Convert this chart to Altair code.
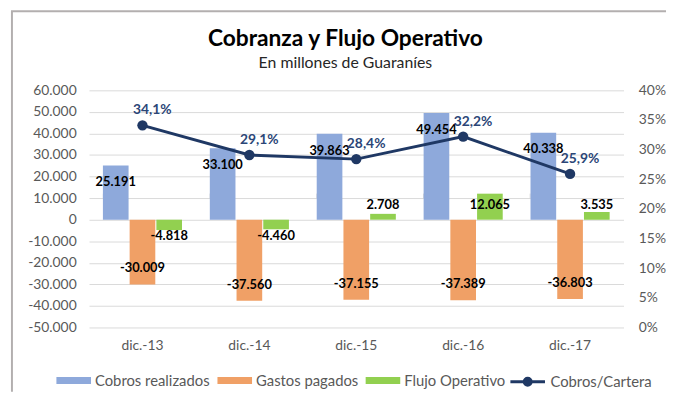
import altair as alt
import pandas as pd

categories = ["dic.-13", "dic.-14", "dic.-15", "dic.-16", "dic.-17"]
cobros = [25191, 33100, 39863, 49454, 40338]
gastos = [-30009, -37560, -37155, -37389, -36803]
flujo = [-4818, -4460, 2708, 12065, 3535]
ratio = [0.341, 0.291, 0.284, 0.322, 0.259]
series_names = ["Cobros realizados", "Gastos pagados", "Flujo Operativo"]
line_name = "Cobros/Cartera"
left_ticks = [-50000, -40000, -30000, -20000, -10000, 0, 10000, 20000, 30000, 40000, 50000, 60000]
right_ticks = [0, 0.05, 0.10, 0.15, 0.20, 0.25, 0.30, 0.35, 0.40]

rows = []
for i, c in enumerate(categories):
    for s, vals in zip(series_names, [cobros, gastos, flujo]):
        rows.append({"cat": c, "serie": s, "v": vals[i]})
bars_df = pd.DataFrame(rows)
line_df = pd.DataFrame({"cat": categories, "r": ratio, "serie": [line_name] * len(categories)})

FONT = "Lato"
NAVY = "#1F3864"
LABEL_NAVY = "#2B4677"
AXIS_GREY = "#595959"
GRID = "#D9D9D9"
bar_colors = ["#8EA9DB", "#F0A066", "#92D050"]

RECT = "M-1,-0.2H1V0.2H-1Z"
LINESYM = "M-1,0H1 M-0.2,0A0.2,0.2 0 1,0 0.2,0A0.2,0.2 0 1,0 -0.2,0Z"

fill_legend = alt.Legend(
    orient="none", legendX=-33, legendY=276, direction="horizontal", title=None,
    labelFont=FONT, labelFontSize=15, labelColor=AXIS_GREY, symbolSize=1225,
    symbolType=RECT, labelOffset=4, columnPadding=7, symbolStrokeWidth=0,
)
stroke_legend = alt.Legend(
    orient="none", legendX=425, legendY=276, direction="horizontal", title=None,
    labelFont=FONT, labelFontSize=15, labelColor=AXIS_GREY, symbolSize=1225,
    symbolType=LINESYM, labelOffset=4, symbolStrokeWidth=3, symbolFillColor=NAVY,
)

x_scale = alt.Scale(domain=categories, paddingInner=0.26, paddingOuter=0.13)
x_axis = alt.Axis(title=None, labelFont=FONT, labelFontSize=14, labelColor=AXIS_GREY,
                  labelPadding=11, domain=False, ticks=False, labelAngle=0, grid=False)
zero_axis = alt.Axis(title=None, labels=False, domain=False, ticks=True, tickColor=GRID,
                     tickSize=5, bandPosition=0, offset=-109, grid=False)

y_left_scale = alt.Scale(domain=[-50000, 60000], nice=False, zero=False)
left_axis = alt.Axis(title=None, values=left_ticks, format=",.0f", labelFont=FONT,
                     labelFontSize=14, labelColor=AXIS_GREY, grid=True, gridColor=GRID,
                     domain=False, ticks=False, labelPadding=13)
y_right_scale = alt.Scale(domain=[0, 0.4], nice=False, zero=False)
right_axis = alt.Axis(title=None, orient="right", values=right_ticks, format=".0%", labelFont=FONT,
                      labelFontSize=14, labelColor=AXIS_GREY, grid=False, domain=False,
                      ticks=False, labelPadding=15)

xoff = alt.XOffset("serie:N", scale=alt.Scale(domain=series_names, paddingInner=0.04))

bars = alt.Chart(bars_df).mark_bar().encode(
    x=alt.X("cat:N", scale=x_scale, axis=x_axis),
    xOffset=xoff,
    y=alt.Y("v:Q", scale=y_left_scale, axis=left_axis),
    fill=alt.Fill("serie:N", scale=alt.Scale(domain=series_names, range=bar_colors), legend=fill_legend),
)

bar_labels = alt.Chart(bars_df).transform_calculate(
    ly="datum.serie === 'Cobros realizados' ? datum.v - 7800 : "
       "(datum.serie === 'Gastos pagados' ? datum.v + 7400 : (datum.v >= 0 ? 7000 : -7700))"
).mark_text(font=FONT, fontSize=13, fontWeight="bold", color="#000000", baseline="middle").encode(
    x=alt.X("cat:N", scale=x_scale, axis=x_axis),
    xOffset=xoff,
    y=alt.Y("ly:Q", scale=y_left_scale, axis=left_axis),
    text=alt.Text("v:Q", format=",.0f"),
)

left = alt.layer(bars, bar_labels)

line = alt.Chart(line_df).mark_line(strokeWidth=3).encode(
    x=alt.X("cat:N", scale=x_scale, axis=zero_axis),
    y=alt.Y("r:Q", scale=y_right_scale, axis=right_axis),
    stroke=alt.Stroke("serie:N", scale=alt.Scale(domain=[line_name], range=[NAVY]), legend=stroke_legend),
)
pts = alt.Chart(line_df).mark_point(filled=True, size=110, opacity=1, color=NAVY).encode(
    x=alt.X("cat:N", scale=x_scale, axis=zero_axis),
    y=alt.Y("r:Q", scale=y_right_scale, axis=right_axis),
)
line_labels = alt.Chart(line_df).mark_text(
    font=FONT, fontSize=14, fontWeight="bold", color=LABEL_NAVY, dx=10, dy=-15, baseline="middle"
).encode(
    x=alt.X("cat:N", scale=x_scale, axis=zero_axis),
    y=alt.Y("r:Q", scale=y_right_scale, axis=right_axis),
    text=alt.Text("r:Q", format=".1%"),
)
right = alt.layer(line, pts, line_labels)

frame_df = pd.DataFrame({"k": [0]})
frame_left = alt.Chart(frame_df).mark_rule(color="#B3AFAF", strokeWidth=2).encode(
    x=alt.value(-78), y=alt.value(-80), y2=alt.value(305))
frame_top = alt.Chart(frame_df).mark_rule(color="#B3AFAF", strokeWidth=2).encode(
    x=alt.value(-79), x2=alt.value(584), y=alt.value(-80))

chart = alt.layer(left, right, frame_left, frame_top).resolve_scale(
    y="independent"
).resolve_axis(
    x="independent"
).properties(
    width=541, height=240,
    padding={"left": 2, "top": 0, "right": 0, "bottom": 0},
    title=alt.TitleParams(
        "Cobranza y Flujo Operativo", subtitle="En millones de Guaraníes",
        font=FONT, fontSize=23, fontWeight="bold", color="#000000",
        subtitleFont=FONT, subtitleFontSize=16, subtitleColor="#262626",
        anchor="middle", dx=-11, offset=-61, subtitlePadding=4,
    ),
).configure(
    locale=alt.Locale(number=alt.NumberLocale(decimal=",", thousands=".", grouping=[3],
                                              currency=["", ""], minus="-")),
    view=alt.ViewConfig(stroke=None),
)

chart.save("out.html", embed_options={"renderer": "svg", "actions": False})
